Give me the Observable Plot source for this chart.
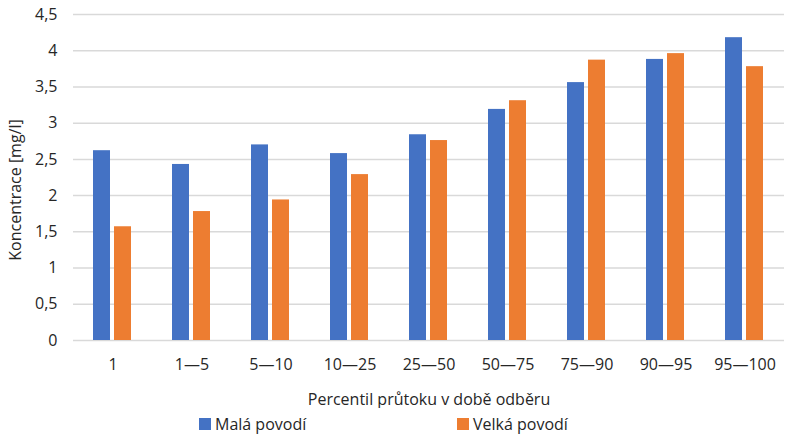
<!DOCTYPE html>
<html>
<head>
<meta charset="utf-8">
<script src="https://cdn.jsdelivr.net/npm/d3@7"></script>
<script src="https://cdn.jsdelivr.net/npm/@observablehq/plot@0.6"></script>
<style>
  body { margin: 0; background: #fff; font-family: "Open Sans", sans-serif; }
  #wrap { width: 800px; position: relative; }
  #legend { position: relative; height: 35px; font-size: 16px; color: #262626; }
  .item { position: absolute; top: 5px; display: flex; align-items: center; }
  .sw { width: 12px; height: 12px; margin-right: 4px; }
</style>
</head>
<body>
<div id="wrap">
  <div id="chart"></div>
  <div id="legend"></div>
</div>
<script>
const categories = ["1", "1—5", "5—10", "10—25", "25—50", "50—75", "75—90", "90—95", "95—100"];
const series = ["Malá povodí", "Velká povodí"];
const mala = [2.62, 2.43, 2.70, 2.58, 2.84, 3.19, 3.56, 3.88, 4.18];
const velka = [1.57, 1.78, 1.94, 2.29, 2.76, 3.31, 3.87, 3.96, 3.78];
const colors = ["#4472C4", "#ED7D31"];
const yTicks = [0, 0.5, 1, 1.5, 2, 2.5, 3, 3.5, 4, 4.5];
const yTitle = "Koncentrace [mg/l]";
const xTitle = "Percentil průtoku v době odběru";

const data = categories.flatMap((c, i) => [
  {cat: c, series: series[0], value: mala[i]},
  {cat: c, series: series[1], value: velka[i]}
]);

const chart = Plot.plot({
  width: 800,
  height: 408,
  marginLeft: 72,
  marginRight: 15,
  marginTop: 14,
  marginBottom: 68,
  style: {fontFamily: "'Open Sans', sans-serif", fontSize: "16px", color: "#262626", background: "#fff"},
  fx: {domain: categories, padding: 0},
  x: {domain: series, paddingInner: 0.18, paddingOuter: 0.89, axis: null},
  y: {domain: [0, 4.5]},
  color: {domain: series, range: colors},
  marks: [
    Plot.ruleY(yTicks, {stroke: "#d9d9d9", strokeWidth: 1.5}),
    Plot.barY(data, {fx: "cat", x: "series", y: "value", fill: "series"}),
    Plot.axisY({ticks: yTicks, tickFormat: d => String(d).replace(".", ","), tickSize: 0, tickPadding: 16,
      label: null, fontSize: 16}),
    Plot.axisFx({anchor: "bottom", tickSize: 0, tickPadding: 18, label: xTitle, labelAnchor: "center",
      labelOffset: 64, labelArrow: "none", fontSize: 16})
  ]
});
d3.select(chart).append("text")
  .attr("transform", "translate(15,190) rotate(-90)")
  .attr("text-anchor", "middle")
  .attr("dominant-baseline", "central")
  .attr("fill", "currentColor")
  .style("font-size", "16px")
  .text(yTitle);
document.getElementById("chart").appendChild(chart);

const legend = document.getElementById("legend");
const lefts = [199, 457];
series.forEach((s, i) => {
  const it = document.createElement("div");
  it.className = "item";
  it.style.left = lefts[i] + "px";
  it.innerHTML = `<div class="sw" style="background:${colors[i]}"></div><span>${s}</span>`;
  legend.appendChild(it);
});
</script>
</body>
</html>
